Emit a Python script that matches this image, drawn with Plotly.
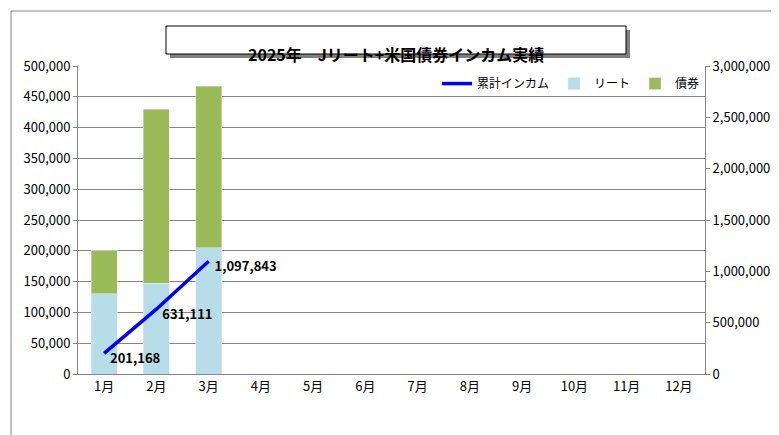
import plotly.graph_objects as go

months = ["1月","2月","3月","4月","5月","6月","7月","8月","9月","10月","11月","12月"]
reit = [130000, 147000, 205000]
bond = [71168, 282943, 261732]
cumulative = [201168, 631111, 1097843]
cum_labels = ["201,168", "631,111", "1,097,843"]

F = "Noto Sans CJK JP"
W, H, L, R, T, B = 779, 435, 70, 82, 58, 69
pw, ph = W - L - R, H - T - B
def px(x): return (x - L) / pw
def py(y): return (H - B - y) / ph

fig = go.Figure()
fig.add_bar(x=months[:3], y=reit, name="リート", marker_color="#b7dde8", width=0.5, legendrank=2)
fig.add_bar(x=months[:3], y=bond, name="債券", marker_color="#9bbb59", width=0.5, legendrank=1)
fig.add_scatter(x=months[:3], y=cumulative, name="累計インカム", yaxis="y2", mode="lines+text",
                line=dict(color="#0000ff", width=3.5), text=["  " + s for s in cum_labels], legendrank=3,
                textposition="bottom right", textfont=dict(family=F, size=13, color="black", weight="bold"))

fig.update_layout(
    width=W, height=H, barmode="stack", plot_bgcolor="white", paper_bgcolor="white",
    margin=dict(l=L, r=R, t=T, b=B, autoexpand=False),
    font=dict(family=F, size=13, color="black"),
    xaxis=dict(categoryorder="array", categoryarray=months, range=[-0.5, 11.5], showline=True,
               linecolor="#868686", ticks=""),
    yaxis=dict(range=[0, 500000], dtick=50000, tickformat=",", showgrid=True, gridcolor="#868686",
               showline=True, linecolor="#868686", ticks="outside", ticklen=4, tickcolor="#868686"),
    yaxis2=dict(range=[0, 3000000], dtick=500000, tickformat=",", overlaying="y", side="right",
                showgrid=False, showline=True, linecolor="#868686", ticks="outside", ticklen=4, tickcolor="#868686"),
    legend=dict(orientation="h", x=1.0, xanchor="right", y=0.99, yanchor="top",
                bgcolor="rgba(0,0,0,0)", font=dict(size=12)),
)

fig.add_shape(type="rect", xref="paper", yref="paper", x0=px(3), x1=px(776), y0=py(431), y1=py(3),
              line=dict(color="#868686", width=1))
fig.add_shape(type="rect", xref="paper", yref="paper", x0=px(162), x1=px(622), y0=py(50), y1=py(22),
              fillcolor="#808080", line_width=0)
fig.add_shape(type="rect", xref="paper", yref="paper", x0=px(158), x1=px(618), y0=py(46), y1=py(18),
              fillcolor="white", line=dict(color="black", width=1))
fig.add_annotation(xref="paper", yref="paper", x=px(388), y=py(32),
                   text="<b>2025年　Jリート+米国債券インカム実績</b>", showarrow=False,
                   font=dict(size=16))

fig.write_html("out.html")
